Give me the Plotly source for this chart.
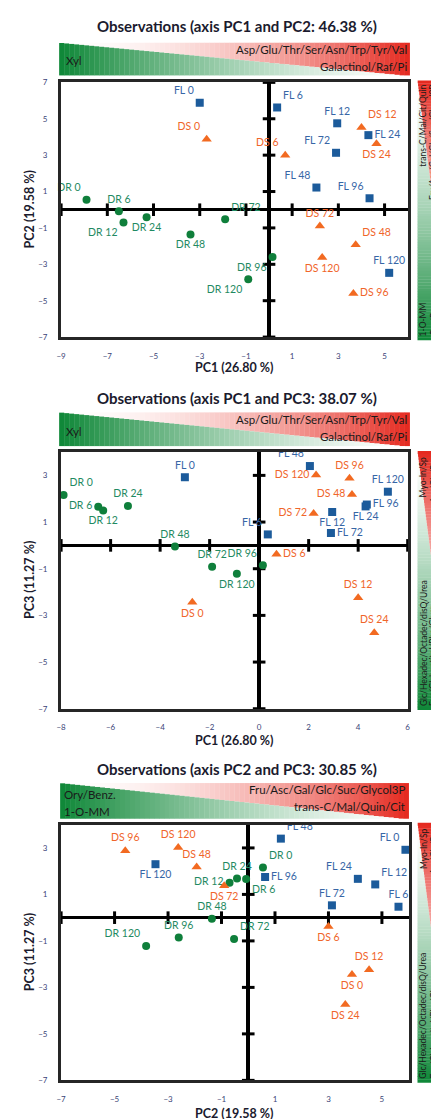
import plotly.graph_objects as go

W, H = 439, 1119

# ---------------- data ----------------
times = [0, 6, 12, 24, 48, 72, 96, 120]
dr_labels = ["DR %d" % t for t in times]
ds_labels = ["DS %d" % t for t in times]
fl_labels = ["FL %d" % t for t in times]

dr_pc1 = [-7.9, -6.5, -6.3, -5.3, -3.4, -1.9, 0.15, -0.9]
dr_pc2 = [0.55, -0.08, -0.7, -0.42, -1.36, -0.53, -2.6, -3.82]
dr_pc3 = [2.16, 1.66, 1.5, 1.69, -0.05, -0.92, -0.85, -1.22]

ds_pc1 = [-2.7, 0.7, 4.0, 4.65, 3.75, 2.2, 3.65, 2.3]
ds_pc2 = [3.88, 3.0, 4.52, 3.63, -1.93, -0.9, -4.6, -2.62]
ds_pc3 = [-2.44, -0.38, -2.24, -3.74, 2.18, 1.37, 2.88, 3.02]

fl_pc1 = [-3.0, 0.35, 2.95, 4.3, 2.05, 2.9, 4.35, 5.2]
fl_pc2 = [5.88, 5.62, 4.75, 4.1, 1.22, 3.13, 0.63, -3.47]
fl_pc3 = [2.92, 0.47, 1.43, 1.67, 3.4, 0.53, 1.75, 2.3]

titles = ["Observations (axis PC1 and PC2: 46.38 %)",
          "Observations (axis PC1 and PC3: 38.07 %)",
          "Observations (axis PC2 and PC3: 30.85 %)"]
x_titles = ["PC1 (26.80 %)", "PC1 (26.80 %)", "PC2 (19.58 %)"]
y_titles = ["PC2 (19.58 %)", "PC3 (11.27 %)", "PC3 (11.27 %)"]

p1_xticks = [-9, -7, -5, -3, -1, 1, 3, 5]
p1_yticks = [-7, -5, -3, -1, 1, 3, 5, 7]
p2_xticks = [-8, -6, -4, -2, 0, 2, 4, 6]
p2_yticks = [-7, -5, -3, -1, 1, 3]
p3_xticks = [-7, -5, -3, -1, 1, 3, 5]
p3_yticks = [-7, -5, -3, -1, 1, 3]

# banner texts
pc1_pos_top = "Asp/Glu/Thr/Ser/Asn/Trp/Tyr/Val"
pc1_pos_bot = "Galactinol/Raf/Pi"
pc1_neg = "Xyl"
pc2_pos_1 = "Fru/Asc/Gal/Glc/Suc/Glycol3P"
pc2_pos_2 = "trans-C/Mal/Quin/Cit"
pc2_pos_side = "trans-C/Mal/Cit/Quin"
pc2_neg_1 = "Ory/Benz."
pc2_neg_2 = "1-O-MM"
pc3_pos_1 = "Myo-In/Sp"
pc3_pos_2 = "Ara/Glc/Pro"
pc3_neg_1 = "Glc/Hexadec/Octadec/disQ/Urea"
pc3_neg_2 = "Fuc/Glcheptitol/Rha/Glycr"

# ---------------- style ----------------
FONT = "Lato"
DR_C, DS_C, FL_C = "#0f7f3b", "#f26a21", "#1c5b9b"
DR_T, DS_T, FL_T = "#1f8a62", "#f0652a", "#3766a6"

pos1 = {
    "DR": ["top left", "top center", "bottom left", "bottom center", "bottom center", "top right", "bottom left", "bottom left"],
    "DS": ["top left", "top left", "top right", "bottom center", "top right", "top center", "middle right", "bottom center"],
    "FL": ["top left", "top right", "top center", "middle right", "top left", "top left", "top left", "top center"],
}
pos2 = {
    "DR": ["top right", "middle left", "bottom center", "top center", "top center", "top center", "top left", "bottom center"],
    "DS": ["bottom center", "middle right", "top center", "top center", "middle left", "middle left", "top center", "middle left"],
    "FL": ["top center", "top left", "bottom center", "bottom center", "top left", "middle right", "middle right", "top center"],
}
pos3 = {
    "DR": ["top right", "bottom right", "middle left", "top center", "top center", "top right", "top center", "top left"],
    "DS": ["bottom center", "bottom center", "top center", "bottom center", "top center", "bottom center", "top center", "top center"],
    "FL": ["top left", "top center", "top right", "top left", "top right", "top center", "middle right", "bottom center"],
}

# panel geometry in pixels (left, right, top, bottom)
panels = [(49, 402, 70, 327), (49, 402, 443, 702), (49, 403, 819, 1077)]
ranges = [((-9, 6), (-7, 7)), ((-8, 6), (-7, 4)), ((-7, 6), (-7, 4))]
ticks = [(p1_xticks, p1_yticks), (p2_xticks, p2_yticks), (p3_xticks, p3_yticks)]
data_xy = [
    ((dr_pc1, dr_pc2), (ds_pc1, ds_pc2), (fl_pc1, fl_pc2)),
    ((dr_pc1, dr_pc3), (ds_pc1, ds_pc3), (fl_pc1, fl_pc3)),
    ((dr_pc2, dr_pc3), (ds_pc2, ds_pc3), (fl_pc2, fl_pc3)),
]
positions = [pos1, pos2, pos3]


def px(x):
    return x / W


def py(y):
    return 1 - y / H


fig = go.Figure()
layout = dict(width=W, height=H, margin=dict(l=0, r=0, t=0, b=0),
              paper_bgcolor="white", plot_bgcolor="white", showlegend=False,
              font=dict(family=FONT))

for i in range(3):
    sfx = "" if i == 0 else str(i + 1)
    xa, ya = "x" + sfx, "y" + sfx
    l, r, t, b = panels[i]
    (xr, yr) = ranges[i]
    xt, yt = ticks[i]
    common = dict(showgrid=False, showline=True, mirror=True, linewidth=3,
                  linecolor="#262626", zeroline=True, zerolinecolor="black",
                  ticks="", tickfont=dict(size=8, color="#3b4577", family=FONT),
                  ticklabelstandoff=9)
    layout["xaxis" + sfx] = dict(common, domain=[px(l), px(r)], range=list(xr),
                                 tickvals=xt, anchor=ya, zerolinewidth=3.5)
    layout["yaxis" + sfx] = dict(common, domain=[py(b), py(t)], range=list(yr),
                                 tickvals=yt, anchor=xa, zerolinewidth=2.5)
    # tick marks sitting on the zero axes
    fig.add_trace(go.Scatter(x=xt, y=[0] * len(xt), xaxis=xa, yaxis=ya, mode="markers",
                             marker=dict(symbol="line-ns", size=9, line=dict(width=3, color="black")),
                             hoverinfo="skip", cliponaxis=False))
    fig.add_trace(go.Scatter(x=[0] * len(yt), y=yt, xaxis=xa, yaxis=ya, mode="markers",
                             marker=dict(symbol="line-ew", size=9, line=dict(width=3, color="black")),
                             hoverinfo="skip", cliponaxis=False))
    groups = [("DR", dr_labels, DR_C, DR_T, "circle", 8),
              ("DS", ds_labels, DS_C, DS_T, "triangle-up", 9),
              ("FL", fl_labels, FL_C, FL_T, "square", 8)]
    for g, (key, labs, mc, tc, sym, sz) in enumerate(groups):
        xs, ys = data_xy[i][g]
        fig.add_trace(go.Scatter(x=xs, y=ys, xaxis=xa, yaxis=ya, mode="markers+text",
                                 text=labs, textposition=positions[i][key],
                                 textfont=dict(size=10.5, color=tc, family=FONT),
                                 marker=dict(symbol=sym, size=sz, color=mc),
                                 cliponaxis=False))

annotations = []
shapes = []


def mix(c1, c2, f):
    return "rgb(%d,%d,%d)" % tuple(round(a + (b_ - a) * f) for a, b_ in zip(c1, c2))


WHITE = (255, 255, 255)
GREEN = (14, 135, 55)
RED = (229, 40, 30)


def rect(x0, y0, x1, y1, color):
    shapes.append(dict(type="rect", xref="paper", yref="paper", x0=px(x0), x1=px(x1),
                       y0=py(y1), y1=py(y0), fillcolor=color, line=dict(width=0), layer="below"))


def top_banner(x0, x1, y0, y1, n=70):
    for k in range(n):
        xa = x0 + (x1 - x0) * k / n
        xb = x0 + (x1 - x0) * (k + 1) / n + 0.3
        t = (k + 0.5) / n
        yb = y0 + (y1 - y0) * min(1.0, t * 1.02)
        rect(xa, y0, xb, yb, mix(WHITE, RED, t ** 1.8))
        rect(xa, yb, xb, y1, mix(WHITE, GREEN, (1 - t) ** 1.4))


def side_banner(x0, x1, y0, y1, n=90):
    for k in range(n):
        ya = y0 + (y1 - y0) * k / n
        yb = y0 + (y1 - y0) * (k + 1) / n + 0.3
        t = (k + 0.5) / n
        xb = x0 + (x1 - x0) * t
        rect(x0, ya, xb, yb, mix(WHITE, GREEN, t ** 1.4))
        rect(xb, ya, x1, yb, mix(WHITE, RED, (1 - t) ** 1.8))


def txt(x, y, s, size=9, xanchor="center", yanchor="middle", angle=0, bold=False, color="#1a1a1a"):
    annotations.append(dict(x=px(x), y=py(y), xref="paper", yref="paper", text=("<b>%s</b>" % s) if bold else s,
                            showarrow=False, xanchor=xanchor, yanchor=yanchor, textangle=angle,
                            font=dict(size=size, color=color, family=FONT)))


# banners
top_banner(47, 404, 30, 63)
top_banner(47, 404, 403, 437)
top_banner(48, 403, 777, 813)
side_banner(412, 446, 68, 330)
side_banner(412, 446, 442, 703)
side_banner(412, 446, 817, 1079)

# panel titles and axis titles
title_y = [13, 388, 763]
xt_y = [358, 734, 1110]
for i in range(3):
    l, r, t, b = panels[i]
    txt(228, title_y[i], titles[i], size=15, bold=True, color="#1b1b2e")
    txt(225, xt_y[i], x_titles[i], size=12.5, bold=True, color="#1b1b2e")
    txt(17, (t + b) / 2, y_titles[i], size=12.5, bold=True, color="#1b1b2e", angle=-90)

# top banner texts
BT = 11.5
txt(403, 37, pc1_pos_top, xanchor="right", size=BT)
txt(403, 54, pc1_pos_bot, xanchor="right", size=BT)
txt(52, 48, pc1_neg, xanchor="left", size=BT)
txt(403, 410, pc1_pos_top, xanchor="right", size=BT)
txt(403, 427, pc1_pos_bot, xanchor="right", size=BT)
txt(52, 422, pc1_neg, xanchor="left", size=BT)
txt(401, 784, pc2_pos_1, xanchor="right", size=BT)
txt(401, 801, pc2_pos_2, xanchor="right", size=BT)
txt(50, 789, pc2_neg_1, xanchor="left", size=BT)
txt(50, 806, pc2_neg_2, xanchor="left", size=BT)

# side banner texts
ST = 8.5
C1, C2 = 418, 428.5
txt(C1, 70, pc2_pos_side, yanchor="top", angle=-90, size=ST)
txt(C2, 70, pc2_pos_1, yanchor="top", angle=-90, size=ST)
txt(C1, 328, pc2_neg_2, yanchor="bottom", angle=-90, size=ST)
txt(C2, 328, pc2_neg_1, yanchor="bottom", angle=-90, size=ST)
for (t0, b0) in [(444, 701), (819, 1077)]:
    txt(C1, t0 + 2, pc3_pos_1, yanchor="top", angle=-90, size=ST)
    txt(C2, t0 + 2, pc3_pos_2, yanchor="top", angle=-90, size=ST)
    txt(C1, b0, pc3_neg_1, yanchor="bottom", angle=-90, size=ST)
    txt(C2, b0, pc3_neg_2, yanchor="bottom", angle=-90, size=ST)

layout["annotations"] = annotations
layout["shapes"] = shapes
fig.update_layout(**layout)
fig.write_html("out.html")
